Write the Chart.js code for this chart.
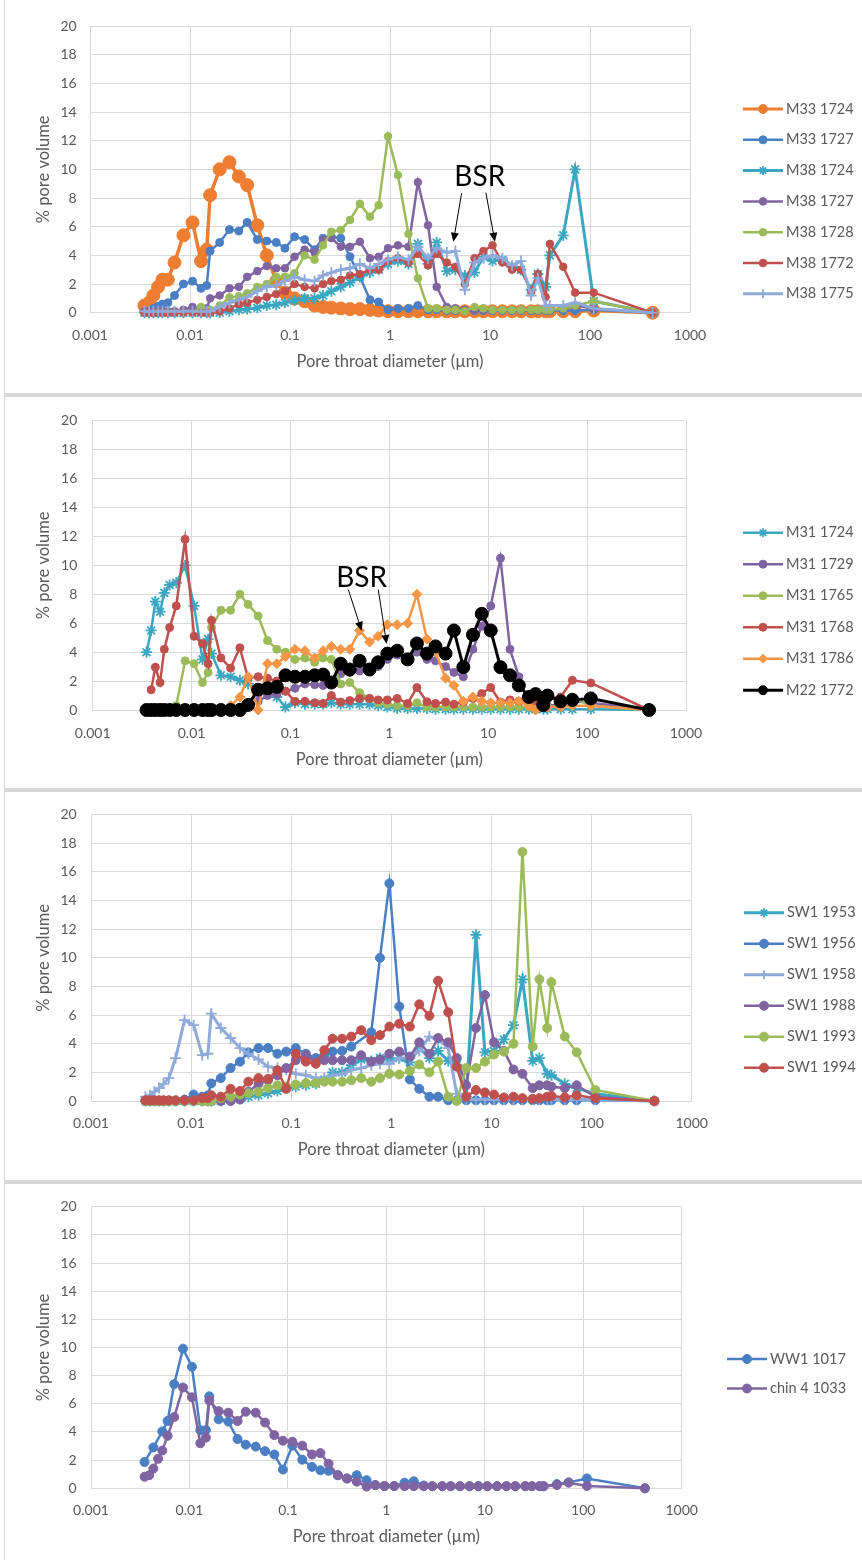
<!DOCTYPE html>
<html>
<head>
<meta charset="utf-8">
<script src="https://cdn.jsdelivr.net/npm/chart.js@4/dist/chart.umd.min.js"></script>
<style>
  body { margin: 0; background: #fff; width: 862px; height: 1560px; position: relative; overflow: hidden; }
  .edge { position: absolute; left: 4px; top: 0; width: 1px; height: 1560px; background: #d9d9d9; }
  .sep { position: absolute; left: 5px; width: 857px; height: 4px; background: #d9d9d9; }
  canvas { position: absolute; left: 5px; }
</style>
</head>
<body>
<div class="edge"></div>
<div class="sep" style="top:393px"></div>
<div class="sep" style="top:788px"></div>
<div class="sep" style="top:1180px"></div>
<canvas id="c1" width="857" height="389" style="top:3px"></canvas>
<canvas id="c2" width="857" height="391" style="top:397px"></canvas>
<canvas id="c3" width="857" height="388" style="top:792px"></canvas>
<canvas id="c4" width="857" height="376" style="top:1184px"></canvas>
<script>
// pore throat diameters (µm), shared by all samples
const diameters = [
  0.0035, 0.0039, 0.0043, 0.0048, 0.0053, 0.006, 0.007, 0.0086, 0.0106, 0.0129,
  0.0147, 0.0159, 0.0198, 0.0248, 0.0308, 0.0373, 0.0471, 0.0586, 0.0728, 0.089,
  0.111, 0.14, 0.176, 0.214, 0.259, 0.322, 0.398, 0.5, 0.63, 0.77,
  0.955, 1.2, 1.53, 1.9, 2.4, 2.93, 3.7, 4.5, 5.6, 7.0,
  8.6, 10.6, 13.3, 16.6, 20.4, 25.8, 30.1, 36, 39.7, 54,
  71, 109, 423
];
const xTicks = [0.001, 0.01, 0.1, 1, 10, 100, 1000];
const yMax = 20, yStep = 2;

// panel 1
const m33_1724 = [0.5, 0.7, 1.2, 1.8, 2.3, 2.3, 3.5, 5.4, 6.3, 3.6,
  4.4, 8.2, 10.0, 10.5, 9.5, 8.9, 6.1, 4.0, 2.2, 1.4,
  1.0, 0.8, 0.5, 0.4, 0.35, 0.3, 0.25, 0.25, 0.2, 0.15,
  0.1, 0.1, 0.1, 0.1, 0.1, 0.1, 0.1, 0.1, 0.1, 0.1,
  0.1, 0.1, 0.1, 0.1, 0.1, 0.1, 0.1, 0.1, 0.1, 0.1,
  0.1, 0.15, 0];
const m33_1727 = [0.05, 0.1, 0.3, 0.45, 0.6, 0.7, 1.2, 2.0, 2.2, 1.7,
  1.9, 4.3, 4.9, 5.8, 5.7, 6.3, 5.1, 5.0, 4.9, 4.5,
  5.3, 5.1, 4.4, 5.2, 5.3, 5.2, 3.9, 2.5, 0.9, 0.75,
  0.2, 0.3, 0.3, 0.5, 0.2, 0.2, 0.15, 0.15, 0.15, 0.15,
  0.15, 0.15, 0.15, 0.15, 0.15, 0.15, 0.15, 0.15, 0.15, 0.15,
  0.15, 0.2, 0];
const m38_1724 = [0, 0, 0, 0, 0, 0, 0, 0, 0, 0,
  0, 0, 0, 0.1, 0.2, 0.25, 0.35, 0.5, 0.55, 0.7,
  0.85, 1.0, 1.0, 1.2, 1.5, 1.8, 2.1, 2.5, 2.8, 3.0,
  3.4, 3.6, 3.4, 4.8, 3.4, 4.9, 2.9, 3.0, 2.6, 2.8,
  3.9, 3.6, 3.7, 3.2, 3.0, 1.6, 2.7, 1.8, 4.0, 5.4,
  10.0, 0.8, 0];
const m38_1727 = [0.1, 0.1, 0.1, 0.1, 0.1, 0.1, 0.1, 0.2, 0.4, 0.1,
  0.3, 1.0, 1.2, 1.7, 1.8, 2.5, 2.9, 3.25, 3.1, 3.1,
  3.9, 4.4, 4.2, 5.1, 5.2, 4.6, 4.6, 4.95, 3.8, 3.9,
  4.5, 4.7, 4.6, 9.1, 6.1, 1.8, 0.4, 0.3, 0.2, 0.2,
  0.2, 0.2, 0.2, 0.2, 0.2, 0.2, 0.2, 0.2, 0.2, 0.3,
  0.5, 0.3, 0];
const m38_1728 = [0, 0, 0, 0, 0, 0, 0, 0, 0, 0.4,
  0.1, 0.2, 0.5, 1.07, 1.15, 1.35, 1.8, 2.0, 2.5, 2.5,
  2.75, 4.0, 3.7, 4.7, 5.65, 5.77, 6.47, 7.6, 6.7, 7.5,
  12.3, 9.6, 5.5, 2.4, 0.3, 0.3, 0.2, 0.2, 0.1, 0.4,
  0.3, 0.2, 0.2, 0.2, 0.2, 0.2, 0.2, 0.2, 0.2, 0.3,
  0.5, 0.8, 0];
const m38_1772 = [0, 0, 0, 0, 0, 0, 0, 0, 0, 0,
  0, 0, 0.1, 0.3, 0.6, 0.7, 0.9, 1.1, 1.3, 1.5,
  2.0, 1.8, 1.7, 2.0, 2.2, 2.3, 2.6, 2.7, 3.0, 3.0,
  3.6, 3.8, 3.5, 4.1, 3.3, 4.1, 3.5, 3.2, 2.0, 3.8,
  4.3, 4.7, 3.5, 3.0, 3.0, 1.5, 2.7, 1.1, 4.8, 3.2,
  1.4, 1.4, 0];
const m38_1775 = [0.1, 0.1, 0.1, 0.1, 0.1, 0.1, 0.1, 0.1, 0.1, 0.1,
  0.1, 0.1, 0.4, 0.7, 0.9, 1.1, 1.5, 1.8, 1.9, 2.2,
  2.5, 2.3, 2.2, 2.6, 2.8, 3.0, 3.1, 3.4, 3.1, 3.4,
  3.7, 3.9, 3.7, 4.6, 3.8, 4.5, 4.2, 4.3, 1.6, 3.5,
  3.8, 4.0, 3.8, 3.3, 3.6, 1.2, 2.4, 0.5, 0.5, 0.5,
  0.7, 0.3, 0];

// panel 2
const m31_1724 = [4.0, 5.5, 7.5, 6.8, 8.1, 8.65, 8.8, 10.0, 7.2, 3.5,
  4.9, 3.9, 2.4, 2.3, 2.05, 1.8, 1.4, 1.1, 0.9, 0.2,
  0.5, 0.4, 0.4, 0.4, 0.5, 0.4, 0.4, 0.4, 0.4, 0.3,
  0.2, 0.1, 0.1, 0.1, 0.1, 0.05, 0.05, 0.05, 0.05, 0.05,
  0.05, 0.05, 0.05, 0.05, 0.05, 0.05, 0.05, 0.05, 0.05, 0.05,
  0.05, 0.05, 0];
const m31_1729 = [0, 0, 0, 0, 0, 0, 0, 0, 0, 0,
  0, 0, 0, 0, 0.2, 0.4, 0.6, 1.0, 1.1, 1.3,
  1.5, 1.8, 1.75, 1.7, 2.0, 2.5, 2.6, 2.7, 2.9, 3.0,
  3.5, 3.8, 3.6, 4.0, 3.5, 3.4, 3.0, 2.6, 2.3, 4.2,
  5.8, 7.2, 10.5, 4.2, 2.3, 0.5, 0.3, 0.3, 0.3, 0.4,
  0.6, 0.5, 0];
const m31_1765 = [0, 0, 0, 0, 0, 0, 0.3, 3.4, 3.2, 1.9,
  2.6, 5.7, 6.9, 6.9, 8.0, 7.3, 6.5, 4.8, 4.2, 4.0,
  3.5, 3.6, 3.3, 3.6, 3.5, 1.8, 1.9, 1.2, 0.8, 0.5,
  0.4, 0.3, 0.3, 0.5, 0.2, 0.2, 0.2, 0.2, 0.2, 0.2,
  0.2, 0.2, 0.2, 0.2, 0.2, 0.2, 0.2, 0.2, 0.2, 0.3,
  0.9, 0.3, 0];
const m31_1768 = [null, 1.4, 2.96, 1.9, 4.2, 5.7, 7.2, 11.8, 5.1, 4.6,
  3.2, 6.2, 3.6, 2.9, 4.3, 2.2, 2.3, 2.2, 2.0, 1.3,
  0.6, 0.6, 0.5, 0.45, 1.0, 0.55, 0.65, 0.8, 0.8, 0.7,
  0.7, 0.8, 0.45, 1.55, 0.57, 0.45, 0.55, 0.4, 0.55, 0.8,
  1.14, 1.55, 0.55, 0.7, 0.6, 0.6, 0.6, 0.7, 0.8, 0.9,
  2.05, 1.87, 0];
const m31_1786 = [null, null, null, null, null, null, null, null, null, null,
  null, null, null, 0.3, 0.9, 2.3, 0, 3.2, 3.2, 3.7,
  4.2, 4.1, 3.6, 4.1, 4.4, 4.2, 4.2, 5.5, 4.7, 5.1,
  5.9, 5.9, 6.0, 8.0, 4.9, 4.0, 2.2, 1.7, 0.6, 0.9,
  0.6, 0.5, 0.5, 0.5, 0.6, 0.3, 0, 0.2, 0.2, 0.2,
  0.3, 0.3, 0];
const m22_1772 = [0, 0, 0, 0, 0, 0, 0, 0, 0, 0,
  0, 0, 0, 0, 0, 0.35, 1.4, 1.5, 1.6, 2.4,
  2.3, 2.3, 2.4, 2.45, 1.9, 3.2, 2.8, 3.4, 2.8, 3.3,
  3.9, 4.1, 3.5, 4.6, 3.9, 4.4, 3.9, 5.5, 2.96, 5.2,
  6.65, 5.5, 2.96, 2.4, 1.7, 0.9, 1.1, 0.34, 1.0, 0.6,
  0.7, 0.8, 0];

// panel 3
const sw1_1953 = [0, 0, 0, 0, 0, 0, 0, 0, 0, 0,
  0, 0, 0, 0.1, 0.2, 0.3, 0.4, 0.55, 0.7, 0.9,
  1.0, 1.1, 1.2, 1.5, 2.0, 2.0, 2.5, 2.9, 2.8, 3.0,
  2.9, 3.0, 2.7, 3.7, 3.0, 3.5, 2.8, 2.5, 0.3, 11.6,
  3.4, 3.5, 4.3, 5.3, 8.5, 2.8, 3.0, 1.9, 1.8, 1.2,
  0.9, 0.5, 0];
const sw1_1956 = [0, 0, 0, 0, 0, 0, 0, 0.1, 0.45, 0.3,
  0.4, 1.23, 1.6, 2.3, 2.75, 3.4, 3.7, 3.7, 3.3, 3.45,
  3.7, 3.3, 3.0, 3.2, 3.45, 3.5, 3.8, null, 4.8, 10.0,
  15.2, 6.6, 1.5, 0.85, 0.3, 0.3, 0.05, 0.05, 0.05, 0.05,
  0.05, 0.05, 0.05, 0.05, 0.05, 0.05, 0.05, 0.05, 0.05, 0.05,
  0.05, 0.05, 0];
const sw1_1958 = [0.3, 0.4, 0.65, 0.9, 1.2, 1.6, 3.0, 5.65, 5.3, 3.2,
  3.3, 6.1, 5.1, 4.4, 3.7, 3.3, 2.9, 2.4, 2.3, 2.2,
  1.9, 1.8, 1.6, 1.6, 1.8, 1.9, 2.15, 2.3, 2.5, 2.6,
  2.6, 3.0, 3.0, 3.5, 4.5, 4.3, 3.7, 0.5, 0.1, 0.1,
  0.1, 0.1, 0.1, 0.1, 0.1, 0.1, 0.1, 0.1, 0.1, 0.1,
  0.1, 0.1, 0];
const sw1_1988 = [0, 0, 0, 0, 0, 0, 0, 0, 0, 0,
  0, 0, 0, 0, 0.1, 0.65, 1.2, 1.45, 1.8, 2.3,
  2.85, 3.2, 2.7, 2.85, 2.85, 2.85, 2.85, 3.2, 2.75, 2.9,
  3.3, 3.45, 3.1, 4.1, 3.3, 4.4, 4.1, 3.0, 1.1, 5.1,
  7.4, 4.1, 3.5, 2.2, 1.9, 0.9, 1.1, 1.1, 1.0, 0.9,
  1.1, 0.3, 0];
const sw1_1993 = [0, 0, 0, 0, 0, 0, 0, 0, 0, 0,
  0, 0, 0.2, 0.3, 0.45, 0.55, 0.65, 0.9, 1.1, 1.0,
  1.15, 1.25, 1.25, 1.35, 1.35, 1.35, 1.45, 1.6, 1.35, 1.6,
  1.9, 1.85, 2.1, 2.55, 2.0, 2.75, 0.3, 0, 2.3, 2.3,
  2.75, 3.25, 3.45, 4.0, 17.4, 3.8, 8.5, 5.1, 8.3, 4.5,
  3.4, 0.77, 0];
const sw1_1994 = [0.05, 0.05, 0.05, 0.05, 0.05, 0.05, 0.05, 0.05, 0.05, 0.2,
  0.2, 0.4, 0.3, 0.85, 0.7, 1.35, 1.6, 1.55, 2.15, 0.85,
  3.3, 2.75, 2.6, 3.55, 4.35, 4.35, 4.5, 4.95, 4.25, 4.6,
  5.2, 5.4, 5.2, 6.75, 5.95, 8.4, 6.2, 2.4, 0.3, 0.77,
  0.6, 0.45, 0.25, 0.3, 0.2, 0.15, 0.2, 0.3, 0.35, 0.25,
  0.4, 0.2, 0];

// panel 4
const ww1_1017 = [1.87, null, 2.9, null, 4.04, 4.78, 7.4, 9.92, 8.63, 4.13,
  4.13, 6.53, 4.9, 4.74, 3.5, 3.1, 2.96, 2.64, 2.4, 1.33,
  3.03, 2.03, 1.52, 1.28, 1.24, 0.93, 0.7, 0.93, 0.58, 0.23,
  0.16, 0.16, 0.4, 0.5, 0.2, 0.15, 0.15, 0.15, 0.15, 0.15,
  0.15, 0.15, 0.15, 0.15, 0.15, 0.15, 0.15, 0.15, 0.15, 0.3,
  0.42, 0.7, 0];
const chin4_1033 = [0.82, 0.93, 1.4, 2.1, 2.68, 3.73, 5.06, 7.16, 6.46, 3.2,
  3.6, 6.23, 5.48, 5.37, 4.78, 5.44, 5.37, 4.67, 3.78, 3.38,
  3.31, 3.03, 2.4, 2.5, 1.75, 0.93, 0.7, 0.47, 0.12, 0.23,
  0.16, 0.16, 0.15, 0.15, 0.15, 0.15, 0.15, 0.15, 0.15, 0.15,
  0.15, 0.15, 0.15, 0.15, 0.15, 0.15, 0.15, 0.15, 0.15, 0.23,
  0.4, 0.16, 0];

// BSR labels and arrows, in data units: [x, y] and [x1, y1, x2, y2]
const bsrLabel1 = [7.9, 9.5];
const bsrArrows1 = [[5.2, 8.33, 4.3, 4.95], [9.1, 8.37, 11.2, 4.95]];
const bsrLabel2 = [0.525, 9.16];
const bsrArrows2 = [[0.385, 8.32, 0.525, 5.47], [0.773, 8.32, 0.94, 4.56]];

const C = {
  orange: '#ED7D31', orange2: '#F79646', blue: '#4A7FC4', teal: '#3AA6C2',
  purple: '#8064A2', green: '#9BBB59', red: '#C0504D', lightblue: '#8EAADB', black: '#000000'
};
const textColor = '#595959';
const gridColor = '#d9d9d9';

const panels = [
  { id: 'c1', top: 3, height: 389, plot: { l: 90, r: 690, t: 26, b: 312.7 },
    xTickPad: 13.9, yTickPad: 13.3, xTitleY: 361.7, yTitleX: 43.3,
    legend: { x: 743, y: 109, dy: 30.8 },
    label: bsrLabel1, arrows: bsrArrows1,
    series: [
      { name: 'M33 1724', v: m33_1724, c: C.orange, s: 'circle', r: 6.5, w: 3.5 },
      { name: 'M33 1727', v: m33_1727, c: C.blue, s: 'circle', r: 4, w: 2.5 },
      { name: 'M38 1724', v: m38_1724, c: C.teal, s: 'star', r: 5.5, w: 3 },
      { name: 'M38 1727', v: m38_1727, c: C.purple, s: 'circle', r: 3.8, w: 2.5 },
      { name: 'M38 1728', v: m38_1728, c: C.green, s: 'circle', r: 3.8, w: 2.5 },
      { name: 'M38 1772', v: m38_1772, c: C.red, s: 'circle', r: 3.8, w: 2.5 },
      { name: 'M38 1775', v: m38_1775, c: C.lightblue, s: 'cross', r: 5.5, w: 3 }
    ] },
  { id: 'c2', top: 397, height: 391, plot: { l: 92.7, r: 686, t: 417.3, b: 710 },
    xTickPad: 14.9, yTickPad: 15.4, xTitleY: 760, yTitleX: 44,
    legend: { x: 743, y: 532.7, dy: 31.5 },
    label: bsrLabel2, arrows: bsrArrows2,
    series: [
      { name: 'M31 1724', v: m31_1724, c: C.teal, s: 'star', r: 5.5, w: 2.5 },
      { name: 'M31 1729', v: m31_1729, c: C.purple, s: 'circle', r: 4, w: 2.5 },
      { name: 'M31 1765', v: m31_1765, c: C.green, s: 'circle', r: 4, w: 2.5 },
      { name: 'M31 1768', v: m31_1768, c: C.red, s: 'circle', r: 4, w: 2.5 },
      { name: 'M31 1786', v: m31_1786, c: C.orange2, s: 'rectRot', r: 5, w: 2.5 },
      { name: 'M22 1772', v: m22_1772, c: C.black, s: 'circle', r: 6.5, w: 3 }
    ] },
  { id: 'c3', top: 792, height: 388, plot: { l: 91, r: 691.7, t: 814.3, b: 1101 },
    xTickPad: 13.9, yTickPad: 14.3, xTitleY: 1150, yTitleX: 43.3,
    legend: { x: 744, y: 912.7, dy: 31 },
    series: [
      { name: 'SW1 1953', v: sw1_1953, c: C.teal, s: 'star', r: 5.5, w: 3 },
      { name: 'SW1 1956', v: sw1_1956, c: C.blue, s: 'circle', r: 4.5, w: 2.5 },
      { name: 'SW1 1958', v: sw1_1958, c: C.lightblue, s: 'cross', r: 5.5, w: 3 },
      { name: 'SW1 1988', v: sw1_1988, c: C.purple, s: 'circle', r: 4.5, w: 2.5 },
      { name: 'SW1 1993', v: sw1_1993, c: C.green, s: 'circle', r: 4.5, w: 2.5 },
      { name: 'SW1 1994', v: sw1_1994, c: C.red, s: 'circle', r: 4.5, w: 2.5 }
    ] },
  { id: 'c4', top: 1184, height: 376, plot: { l: 91, r: 681.7, t: 1202.7, b: 1488.3 },
    xTickPad: 13.3, yTickPad: 14.3, xTitleY: 1536.7, yTitleX: 44,
    legend: { x: 727, y: 1359, dy: 29.5 },
    series: [
      { name: 'WW1 1017', v: ww1_1017, c: C.blue, s: 'circle', r: 4.5, w: 2.5 },
      { name: 'chin 4 1033', v: chin4_1033, c: C.purple, s: 'circle', r: 4.5, w: 2.5 }
    ] }
];

const LEFT = 5, WIDTH = 857;
const tickFont = { family: 'Lato', size: 14 };
const titleFont = { family: 'Lato', size: 16.5 };

function drawArrow(ctx, x1, y1, x2, y2) {
  const a = Math.atan2(y2 - y1, x2 - x1), L = 9, W = 4;
  ctx.beginPath();
  ctx.moveTo(x1, y1);
  ctx.lineTo(x2 - L * 0.8 * Math.cos(a), y2 - L * 0.8 * Math.sin(a));
  ctx.stroke();
  ctx.beginPath();
  ctx.moveTo(x2, y2);
  ctx.lineTo(x2 - L * Math.cos(a) + W * Math.sin(a), y2 - L * Math.sin(a) - W * Math.cos(a));
  ctx.lineTo(x2 - L * Math.cos(a) - W * Math.sin(a), y2 - L * Math.sin(a) + W * Math.cos(a));
  ctx.closePath();
  ctx.fill();
}

function extrasPlugin(P) {
  return {
    id: 'extras',
    afterDatasetsDraw(chart) {
      const ctx = chart.ctx, xs = chart.scales.x, ys = chart.scales.y;
      ctx.save();
      // BSR notes
      if (P.label) {
        ctx.fillStyle = '#000';
        ctx.font = '28px Lato';
        ctx.textAlign = 'center';
        ctx.textBaseline = 'middle';
        ctx.fillText('BSR', xs.getPixelForValue(P.label[0]), ys.getPixelForValue(P.label[1]));
        ctx.strokeStyle = '#000';
        ctx.lineWidth = 1;
        P.arrows.forEach(a => drawArrow(ctx,
          xs.getPixelForValue(a[0]), ys.getPixelForValue(a[1]),
          xs.getPixelForValue(a[2]), ys.getPixelForValue(a[3])));
      }
      // legend
      const x1 = P.legend.x - LEFT, x2 = x1 + 40, tx = x2 + 3;
      chart.data.datasets.forEach((ds, i) => {
        const y = P.legend.y + i * P.legend.dy - P.top;
        ctx.strokeStyle = ds.borderColor;
        ctx.lineWidth = Math.min(ds.borderWidth, 3);
        ctx.beginPath();
        ctx.moveTo(x1, y);
        ctx.lineTo(x2, y);
        ctx.stroke();
        ctx.fillStyle = ds.pointBackgroundColor;
        ctx.strokeStyle = ds.pointBorderColor;
        ctx.lineWidth = ds.pointBorderWidth;
        Chart.helpers.drawPoint(ctx, { pointStyle: ds.pointStyle, radius: Math.min(ds.pointRadius, 4.5),
          borderWidth: ds.pointBorderWidth, rotation: 0 }, (x1 + x2) / 2, y);
        ctx.fillStyle = textColor;
        ctx.font = '14.5px Lato';
        ctx.textAlign = 'left';
        ctx.textBaseline = 'middle';
        ctx.fillText(ds.label, tx, y);
      });
      ctx.restore();
    }
  };
}

panels.forEach(P => {
  const n = P.series.length;
  const bottom = P.top + P.height;
  const datasets = P.series.map((s, i) => {
    const lineStyle = s.s === 'star' || s.s === 'cross';
    return {
      label: s.name,
      data: diameters.map((x, k) => ({ x: x, y: s.v[k] })),
      borderColor: s.c,
      backgroundColor: s.c,
      borderWidth: s.w,
      pointStyle: s.s,
      pointRadius: s.r,
      pointBackgroundColor: s.c,
      pointBorderColor: s.c,
      pointBorderWidth: lineStyle ? 1.8 : 1,
      tension: 0,
      spanGaps: true,
      clip: false,
      order: n - i
    };
  });

  new Chart(document.getElementById(P.id), {
    type: 'line',
    data: { datasets },
    options: {
      responsive: false,
      animation: false,
      devicePixelRatio: 1,
      layout: { padding: { left: 0, top: P.plot.t - P.top, right: LEFT + WIDTH - P.plot.r, bottom: 0 } },
      plugins: { legend: { display: false }, tooltip: { enabled: false } },
      scales: {
        x: {
          type: 'logarithmic',
          min: xTicks[0],
          max: xTicks[xTicks.length - 1],
          afterBuildTicks: s => { s.ticks = xTicks.map(v => ({ value: v })); },
          afterFit: s => { s.height = bottom - P.plot.b; },
          ticks: { autoSkip: false, maxRotation: 0, padding: P.xTickPad, color: textColor, font: tickFont,
            callback: v => String(v) },
          grid: { color: gridColor, drawTicks: false },
          border: { color: gridColor },
          title: { display: true, text: 'Pore throat diameter (µm)', color: textColor, font: titleFont,
            padding: { top: 0, bottom: bottom - P.xTitleY - 9.9 } }
        },
        y: {
          min: 0,
          max: yMax,
          afterFit: s => { s.width = P.plot.l - LEFT; },
          ticks: { stepSize: yStep, padding: P.yTickPad, color: textColor, font: tickFont },
          grid: { color: gridColor, drawTicks: false },
          border: { color: gridColor },
          title: { display: true, text: '% pore volume', color: textColor, font: titleFont,
            padding: { top: P.yTitleX - LEFT - 9.9, bottom: 0 } }
        }
      }
    },
    plugins: [extrasPlugin(P)]
  });
});
</script>
</body>
</html>
